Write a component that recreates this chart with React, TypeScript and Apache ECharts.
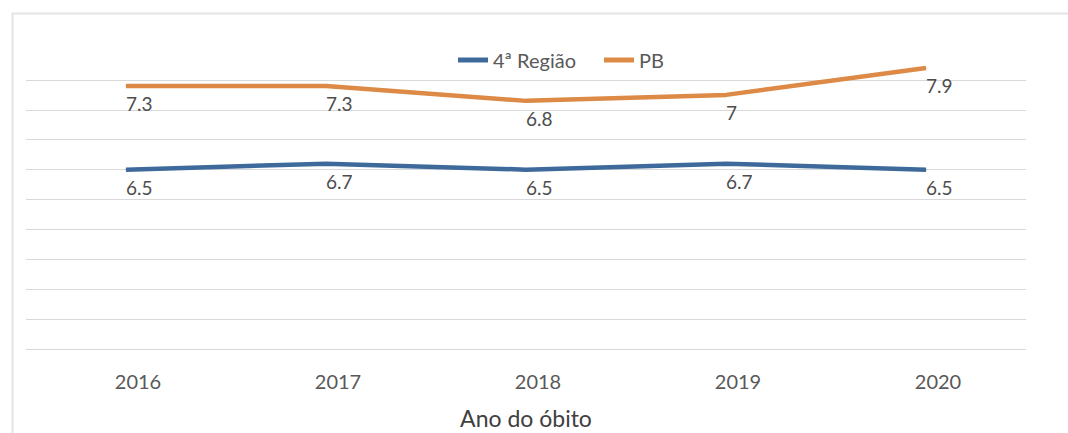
import React, { useEffect, useRef } from "react";
import * as echarts from "echarts";

const years = ["2016", "2017", "2018", "2019", "2020"];
const regiao4 = [6.5, 6.7, 6.5, 6.7, 6.5];
const pb = [7.3, 7.3, 6.8, 7, 7.9];
const seriesNames = ["4ª Região", "PB"];
const xAxisTitle = "Ano do óbito";

const BLUE = "#3E6A9B";
const ORANGE = "#DC8A45";
const TEXT = "#595959";
const FONT = "Lato, 'Open Sans', sans-serif";

export default function App() {
  const ref = useRef<HTMLDivElement>(null);

  useEffect(() => {
    if (!ref.current) return;
    const chart = echarts.init(ref.current, undefined, { renderer: "svg" });
    const labelStyle = {
      show: true,
      position: "bottom" as const,
      distance: 8,
      align: "left" as const,
      color: "#4d4d4d",
      fontSize: 19,
      fontFamily: FONT,
    };
    chart.setOption({
      animation: false,
      backgroundColor: "#ffffff",
      textStyle: { fontFamily: FONT },
      graphic: [
        {
          type: "line",
          shape: { x1: 12, y1: 13.5, x2: 1068, y2: 13.5 },
          style: { stroke: "#e4e4e4", lineWidth: 2 },
          silent: true,
        },
        {
          type: "line",
          shape: { x1: 12.5, y1: 13, x2: 12.5, y2: 433 },
          style: { stroke: "#e4e4e4", lineWidth: 2 },
          silent: true,
        },
      ],
      legend: {
        top: 45,
        left: 453,
        itemWidth: 30,
        itemHeight: 5,
        itemGap: 28,
        icon: "rect",
        textStyle: { color: TEXT, fontSize: 20, fontFamily: FONT },
        data: seriesNames,
      },
      grid: { left: 26, right: 42, top: 65, height: 284, outerBoundsMode: "none" },
      xAxis: {
        type: "category",
        data: years,
        boundaryGap: true,
        axisLine: { show: false },
        axisTick: { show: false },
        axisLabel: {
          color: TEXT,
          fontSize: 20,
          fontFamily: FONT,
          margin: 22,
          padding: [0, 0, 0, 24],
        },
        name: xAxisTitle,
        nameLocation: "middle",
        nameGap: 57,
        nameTextStyle: { color: "#404040", fontSize: 23, fontFamily: FONT },
      },
      yAxis: [
        { type: "value", min: -1.5, max: 8, show: false },
        { type: "value", min: 0.5, max: 10, show: false },
        {
          type: "value",
          min: 0,
          max: 9.5,
          interval: 1,
          axisLine: { show: false },
          axisTick: { show: false },
          axisLabel: { show: false },
          splitLine: {
            show: true,
            showMaxLine: false,
            lineStyle: { color: "#d9d9d9", width: 1 },
          },
        },
      ],
      series: [
        {
          name: seriesNames[0],
          type: "line",
          yAxisIndex: 1,
          data: regiao4,
          symbol: "circle",
          symbolSize: 1,
          itemStyle: { color: BLUE },
          lineStyle: { color: BLUE, width: 4.5 },
          label: labelStyle,
          z: 3,
        },
        {
          name: seriesNames[1],
          type: "line",
          yAxisIndex: 0,
          data: pb,
          symbol: "circle",
          symbolSize: 1,
          clip: false,
          itemStyle: { color: ORANGE },
          lineStyle: { color: ORANGE, width: 4.5 },
          label: labelStyle,
          z: 3,
        },
      ],
    });
    return () => chart.dispose();
  }, []);

  return (
    <div
      ref={ref}
      style={{ position: "fixed", left: 0, top: 0, width: 1068, height: 433, background: "#fff" }}
    />
  );
}
